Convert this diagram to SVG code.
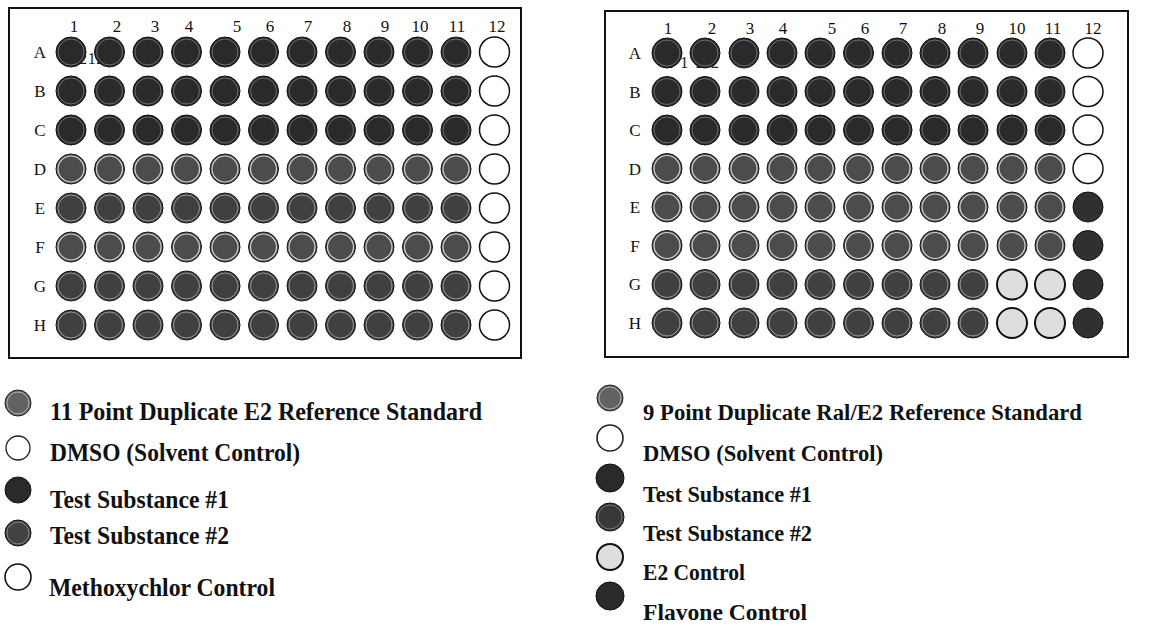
<svg xmlns="http://www.w3.org/2000/svg" xmlns:xlink="http://www.w3.org/1999/xlink" width="1152" height="639" viewBox="0 0 1152 639">
<style>
.box{fill:#fff;stroke:#111;stroke-width:2}
.lbl{font-family:"Liberation Serif","Times New Roman",serif;font-size:17px;fill:#111;text-anchor:middle}
.art{font-family:"Liberation Serif","Times New Roman",serif;font-size:16px;fill:#222}
.leg{font-family:"Liberation Serif","Times New Roman",serif;font-weight:bold;fill:#111}
</style>
<defs>
<g id="ts1"><circle r="15" fill="#2a2a2a" stroke="#111" stroke-width="1"/><circle r="13" fill="none" stroke="#fff" stroke-opacity="0.3" stroke-width="1"/></g>
<g id="ts2"><circle r="15" fill="#404040" stroke="#151515" stroke-width="1"/><circle r="13" fill="none" stroke="#fff" stroke-opacity="0.45" stroke-width="1"/></g>
<g id="ref"><circle r="15" fill="#4c4c4c" stroke="#151515" stroke-width="1"/><circle r="13" fill="none" stroke="#fff" stroke-opacity="0.75" stroke-width="1.2"/></g>
<g id="wht"><circle r="15" fill="#fff" stroke="#111" stroke-width="1.5"/></g>
<g id="e2c"><circle r="15" fill="#dedede" stroke="#111" stroke-width="2"/></g>
<g id="flv"><circle r="15" fill="#303030" stroke="#111" stroke-width="1"/></g>
</defs>
<rect width="1152" height="639" fill="#fff"/>

<g id="plate-left">
<rect class="box" x="9" y="8" width="512" height="350"/>
<text class="art" x="79" y="64" textLength="34">2122</text>
<g id="left-cols" class="lbl">
<text x="74" y="32">1</text><text x="117" y="32">2</text><text x="155" y="32">3</text><text x="189" y="32">4</text><text x="237" y="32">5</text><text x="270" y="32">6</text><text x="308" y="32">7</text><text x="347" y="32">8</text><text x="385" y="32">9</text><text x="420" y="32">10</text><text x="457" y="32">11</text><text x="497" y="32">12</text>
</g>
<g id="left-rows" class="lbl">
<text x="40" y="58">A</text><text x="40" y="97">B</text><text x="40" y="136">C</text><text x="40" y="175">D</text><text x="40" y="214">E</text><text x="40" y="253">F</text><text x="40" y="292">G</text><text x="40" y="331">H</text>
</g>
<g id="left-A" transform="translate(0,52)"><use href="#ts1" x="71"/><use href="#ts1" x="109.5"/><use href="#ts1" x="148"/><use href="#ts1" x="186.5"/><use href="#ts1" x="225"/><use href="#ts1" x="263.5"/><use href="#ts1" x="302"/><use href="#ts1" x="340.5"/><use href="#ts1" x="379"/><use href="#ts1" x="417.5"/><use href="#ts1" x="456"/><use href="#wht" x="494.5"/></g>
<g id="left-B" transform="translate(0,91)"><use href="#ts1" x="71"/><use href="#ts1" x="109.5"/><use href="#ts1" x="148"/><use href="#ts1" x="186.5"/><use href="#ts1" x="225"/><use href="#ts1" x="263.5"/><use href="#ts1" x="302"/><use href="#ts1" x="340.5"/><use href="#ts1" x="379"/><use href="#ts1" x="417.5"/><use href="#ts1" x="456"/><use href="#wht" x="494.5"/></g>
<g id="left-C" transform="translate(0,130)"><use href="#ts1" x="71"/><use href="#ts1" x="109.5"/><use href="#ts1" x="148"/><use href="#ts1" x="186.5"/><use href="#ts1" x="225"/><use href="#ts1" x="263.5"/><use href="#ts1" x="302"/><use href="#ts1" x="340.5"/><use href="#ts1" x="379"/><use href="#ts1" x="417.5"/><use href="#ts1" x="456"/><use href="#wht" x="494.5"/></g>
<g id="left-D" transform="translate(0,169)"><use href="#ref" x="71"/><use href="#ref" x="109.5"/><use href="#ref" x="148"/><use href="#ref" x="186.5"/><use href="#ref" x="225"/><use href="#ref" x="263.5"/><use href="#ref" x="302"/><use href="#ref" x="340.5"/><use href="#ref" x="379"/><use href="#ref" x="417.5"/><use href="#ref" x="456"/><use href="#wht" x="494.5"/></g>
<g id="left-E" transform="translate(0,208)"><use href="#ts2" x="71"/><use href="#ts2" x="109.5"/><use href="#ts2" x="148"/><use href="#ts2" x="186.5"/><use href="#ts2" x="225"/><use href="#ts2" x="263.5"/><use href="#ts2" x="302"/><use href="#ts2" x="340.5"/><use href="#ts2" x="379"/><use href="#ts2" x="417.5"/><use href="#ts2" x="456"/><use href="#wht" x="494.5"/></g>
<g id="left-F" transform="translate(0,247)"><use href="#ref" x="71"/><use href="#ref" x="109.5"/><use href="#ref" x="148"/><use href="#ref" x="186.5"/><use href="#ref" x="225"/><use href="#ref" x="263.5"/><use href="#ref" x="302"/><use href="#ref" x="340.5"/><use href="#ref" x="379"/><use href="#ref" x="417.5"/><use href="#ref" x="456"/><use href="#wht" x="494.5"/></g>
<g id="left-G" transform="translate(0,286)"><use href="#ts2" x="71"/><use href="#ts2" x="109.5"/><use href="#ts2" x="148"/><use href="#ts2" x="186.5"/><use href="#ts2" x="225"/><use href="#ts2" x="263.5"/><use href="#ts2" x="302"/><use href="#ts2" x="340.5"/><use href="#ts2" x="379"/><use href="#ts2" x="417.5"/><use href="#ts2" x="456"/><use href="#wht" x="494.5"/></g>
<g id="left-H" transform="translate(0,325)"><use href="#ts2" x="71"/><use href="#ts2" x="109.5"/><use href="#ts2" x="148"/><use href="#ts2" x="186.5"/><use href="#ts2" x="225"/><use href="#ts2" x="263.5"/><use href="#ts2" x="302"/><use href="#ts2" x="340.5"/><use href="#ts2" x="379"/><use href="#ts2" x="417.5"/><use href="#ts2" x="456"/><use href="#wht" x="494.5"/></g>
</g>

<g id="plate-right">
<rect class="box" x="605" y="11" width="523" height="346"/>
<text class="art" x="665" y="68" textLength="54">2122</text>
<g id="right-cols" class="lbl">
<text x="668" y="34">1</text><text x="712" y="34">2</text><text x="750" y="34">3</text><text x="783" y="34">4</text><text x="832" y="34">5</text><text x="865" y="34">6</text><text x="903" y="34">7</text><text x="942" y="34">8</text><text x="980" y="34">9</text><text x="1017" y="34">10</text><text x="1053" y="34">11</text><text x="1093" y="34">12</text>
</g>
<g id="right-rows" class="lbl">
<text x="635" y="59">A</text><text x="635" y="97.5">B</text><text x="635" y="136">C</text><text x="635" y="174.5">D</text><text x="635" y="213">E</text><text x="635" y="251.5">F</text><text x="635" y="290">G</text><text x="635" y="329">H</text>
</g>
<g id="right-A" transform="translate(0,53)"><use href="#ts1" x="667"/><use href="#ts1" x="705"/><use href="#ts1" x="744"/><use href="#ts1" x="782"/><use href="#ts1" x="820"/><use href="#ts1" x="858.5"/><use href="#ts1" x="897"/><use href="#ts1" x="935"/><use href="#ts1" x="973"/><use href="#ts1" x="1012"/><use href="#ts1" x="1050"/><use href="#wht" x="1088"/></g>
<g id="right-B" transform="translate(0,91.5)"><use href="#ts1" x="667"/><use href="#ts1" x="705"/><use href="#ts1" x="744"/><use href="#ts1" x="782"/><use href="#ts1" x="820"/><use href="#ts1" x="858.5"/><use href="#ts1" x="897"/><use href="#ts1" x="935"/><use href="#ts1" x="973"/><use href="#ts1" x="1012"/><use href="#ts1" x="1050"/><use href="#wht" x="1088"/></g>
<g id="right-C" transform="translate(0,130)"><use href="#ts1" x="667"/><use href="#ts1" x="705"/><use href="#ts1" x="744"/><use href="#ts1" x="782"/><use href="#ts1" x="820"/><use href="#ts1" x="858.5"/><use href="#ts1" x="897"/><use href="#ts1" x="935"/><use href="#ts1" x="973"/><use href="#ts1" x="1012"/><use href="#ts1" x="1050"/><use href="#wht" x="1088"/></g>
<g id="right-D" transform="translate(0,168.5)"><use href="#ref" x="667"/><use href="#ref" x="705"/><use href="#ref" x="744"/><use href="#ref" x="782"/><use href="#ref" x="820"/><use href="#ref" x="858.5"/><use href="#ref" x="897"/><use href="#ref" x="935"/><use href="#ref" x="973"/><use href="#ref" x="1012"/><use href="#ref" x="1050"/><use href="#wht" x="1088"/></g>
<g id="right-E" transform="translate(0,207)"><use href="#ref" x="667"/><use href="#ref" x="705"/><use href="#ref" x="744"/><use href="#ref" x="782"/><use href="#ref" x="820"/><use href="#ref" x="858.5"/><use href="#ref" x="897"/><use href="#ref" x="935"/><use href="#ref" x="973"/><use href="#ref" x="1012"/><use href="#ref" x="1050"/><use href="#flv" x="1088"/></g>
<g id="right-F" transform="translate(0,245.5)"><use href="#ref" x="667"/><use href="#ref" x="705"/><use href="#ref" x="744"/><use href="#ref" x="782"/><use href="#ref" x="820"/><use href="#ref" x="858.5"/><use href="#ref" x="897"/><use href="#ref" x="935"/><use href="#ref" x="973"/><use href="#ref" x="1012"/><use href="#ref" x="1050"/><use href="#flv" x="1088"/></g>
<g id="right-G" transform="translate(0,284.5)"><use href="#ts2" x="667"/><use href="#ts2" x="705"/><use href="#ts2" x="744"/><use href="#ts2" x="782"/><use href="#ts2" x="820"/><use href="#ts2" x="858.5"/><use href="#ts2" x="897"/><use href="#ts2" x="935"/><use href="#ts2" x="973"/><use href="#e2c" x="1012"/><use href="#e2c" x="1050"/><use href="#flv" x="1088"/></g>
<g id="right-H" transform="translate(0,323)"><use href="#ts2" x="667"/><use href="#ts2" x="705"/><use href="#ts2" x="744"/><use href="#ts2" x="782"/><use href="#ts2" x="820"/><use href="#ts2" x="858.5"/><use href="#ts2" x="897"/><use href="#ts2" x="935"/><use href="#ts2" x="973"/><use href="#e2c" x="1012"/><use href="#e2c" x="1050"/><use href="#flv" x="1088"/></g>
</g>

<g id="legend-left" class="leg" font-size="25">
<g id="ll-ref"><circle cx="18" cy="403" r="13" fill="#626262" stroke="#222"/><circle cx="18" cy="403" r="11" fill="none" stroke="#fff" stroke-opacity="0.5"/><text x="50" y="420" textLength="432" lengthAdjust="spacingAndGlyphs">11 Point Duplicate E2 Reference Standard</text></g>
<g id="ll-dmso"><circle cx="18" cy="448" r="12" fill="#fff" stroke="#222" stroke-width="1.3"/><text x="50" y="461" textLength="250" lengthAdjust="spacingAndGlyphs">DMSO (Solvent Control)</text></g>
<g id="ll-ts1"><circle cx="18" cy="490" r="13" fill="#2a2a2a" stroke="#111"/><text x="50" y="508" textLength="179" lengthAdjust="spacingAndGlyphs">Test Substance #1</text></g>
<g id="ll-ts2"><circle cx="18" cy="533" r="13" fill="#424242" stroke="#111"/><circle cx="18" cy="533" r="11" fill="none" stroke="#fff" stroke-opacity="0.35"/><text x="50" y="544" textLength="179" lengthAdjust="spacingAndGlyphs">Test Substance #2</text></g>
<g id="ll-meth"><circle cx="18" cy="577" r="13" fill="#fff" stroke="#111" stroke-width="1.6"/><text x="49" y="596" textLength="226" lengthAdjust="spacingAndGlyphs">Methoxychlor Control</text></g>
</g>

<g id="legend-right" class="leg" font-size="24">
<g id="lr-ref"><circle cx="610" cy="398" r="13" fill="#626262" stroke="#222"/><circle cx="610" cy="398" r="11" fill="none" stroke="#fff" stroke-opacity="0.5"/><text x="643" y="420" textLength="439" lengthAdjust="spacingAndGlyphs">9 Point Duplicate Ral/E2 Reference Standard</text></g>
<g id="lr-dmso"><circle cx="610" cy="438" r="13" fill="#fff" stroke="#222" stroke-width="1.6"/><text x="643" y="461" textLength="240" lengthAdjust="spacingAndGlyphs">DMSO (Solvent Control)</text></g>
<g id="lr-ts1"><circle cx="610" cy="478" r="14" fill="#2a2a2a" stroke="#111"/><text x="643" y="502" textLength="169" lengthAdjust="spacingAndGlyphs">Test Substance #1</text></g>
<g id="lr-ts2"><circle cx="610" cy="517" r="14" fill="#383838" stroke="#111"/><circle cx="610" cy="517" r="12" fill="none" stroke="#fff" stroke-opacity="0.3"/><text x="643" y="541" textLength="169" lengthAdjust="spacingAndGlyphs">Test Substance #2</text></g>
<g id="lr-e2"><circle cx="610" cy="557" r="13" fill="#dedede" stroke="#111" stroke-width="2"/><text x="643" y="580" textLength="102" lengthAdjust="spacingAndGlyphs">E2 Control</text></g>
<g id="lr-flv"><circle cx="610" cy="596" r="14" fill="#2a2a2a" stroke="#111"/><text x="643" y="620" textLength="164" lengthAdjust="spacingAndGlyphs">Flavone Control</text></g>
</g>
</svg>
